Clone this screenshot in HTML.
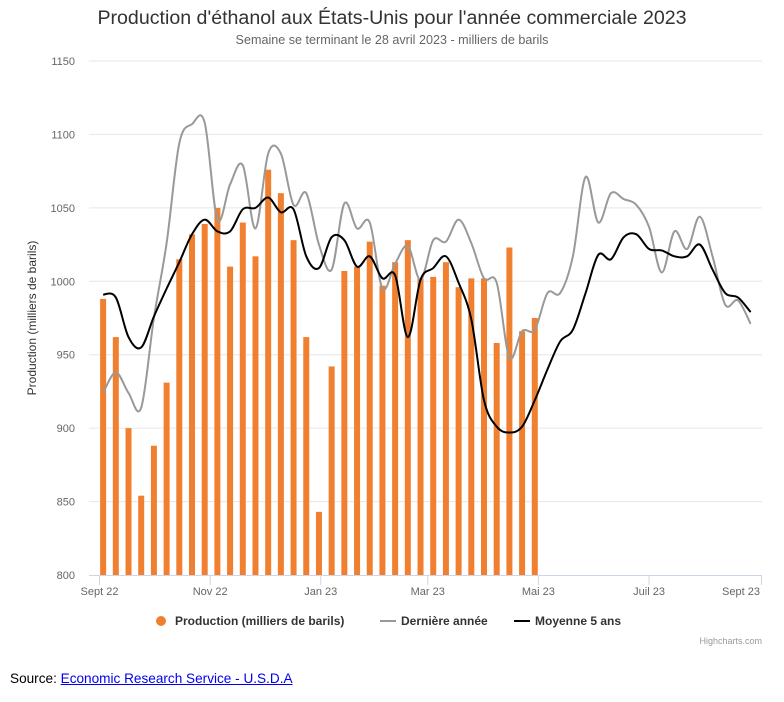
<!DOCTYPE html>
<html><head><meta charset="utf-8"><style>
body{margin:0;background:#fff;font-family:"Liberation Sans",sans-serif;}
#wrap{position:relative;width:784px;height:702px;}
.src{position:absolute;left:10px;top:671px;font-size:13.6px;color:#000;}
.src a{color:#00e;text-decoration:underline;}
</style></head><body>
<div id="wrap">
<svg id="chart" width="784" height="660" xmlns="http://www.w3.org/2000/svg"></svg>
<div class="src">Source: <a>Economic Research Service - U.S.D.A</a></div>
</div>
<script>
const xTickLabels=["Sept 22","Nov 22","Jan 23","Mar 23","Mai 23","Juil 23","Sept 23"];
const xTickDays=[0,61,122,181,242,303,365];
const yTicks=[800,850,900,950,1000,1050,1100,1150];
const production=[988,962,900,854,888,931,1015,1032,1039,1050,1010,1040,1017,1076,1060,1028,962,843,942,1007,1010,1027,997,1013,1028,1002,1003,1013,996,1002,1002,958,1023,966,975];
const lastYear=[924,938,924,914,975,1026,1094,1107,1108,1042,1066,1079,1036,1087,1087,1052,1060,1025,1008,1053,1036,1040,995,1012,1024,1001,1028,1027,1042,1026,1002,999,948,966,967,992,992,1017,1071,1040,1060,1056,1052,1037,1006,1034,1022,1044,1017,984,987,971];
const avg5=[991,989,962,955,976,995,1013,1032,1042,1034,1034,1049,1050,1057,1047,1049,1017,1009,1030,1028,1010,1017,1002,1004,962,1001,1009,1017,999,974,919,901,897,901,919,940,959,967,992,1018,1015,1030,1032,1022,1021,1017,1017,1025,1008,992,989,979];
const svg=document.getElementById('chart');const NS='http://www.w3.org/2000/svg';
const L=89,R=762,T=61,B=575;
const y=v=>B-(v-800)/350*(B-T);
const xd=d=>99.5+d*(761.5-99.5)/365;
const xw=i=>xd(2+i*7);
function el(tag,a,txt){const e=document.createElementNS(NS,tag);for(const k in a)e.setAttribute(k,a[k]);if(txt!==undefined)e.textContent=txt;svg.appendChild(e);return e;}
let e;
e=el('text',{x:392,y:24,'text-anchor':'middle','font-size':19.6,fill:'#333'},"Production d'éthanol aux États-Unis pour l'année commerciale 2023");


e=el('text',{x:392,y:44,'text-anchor':'middle','font-size':12.6,fill:'#666'},"Semaine se terminant le 28 avril 2023 - milliers de barils");


yTicks.forEach(v=>{
 if(v>800){e=el('line',{x1:L,x2:R,y1:y(v),y2:y(v),stroke:'#e6e6e6'});
 
 }
 e=el('text',{x:75,y:y(v)+4,'text-anchor':'end','font-size':11,fill:'#666'},v);
 
 
});
e=el('text',{x:36,y:318,'text-anchor':'middle','font-size':12,fill:'#333',transform:'rotate(-90 36 318)'},"Production (milliers de barils)");


production.forEach((v,i)=>{
 e=el('rect',{x:xw(i)-3,y:y(v),width:6,height:B-y(v),fill:'#f08030'});
 
 
});
function spline(arr){const p=arr.map((v,i)=>[xw(i),y(v)]);let d='M'+p[0][0]+','+p[0][1];
 for(let i=0;i<p.length-1;i++){const p0=p[i-1]||p[i],p1=p[i],p2=p[i+1],p3=p[i+2]||p2;const t=1/6;
  d+=` C${p1[0]+(p2[0]-p0[0])*t},${p1[1]+(p2[1]-p0[1])*t} ${p2[0]-(p3[0]-p1[0])*t},${p2[1]-(p3[1]-p1[1])*t} ${p2[0]},${p2[1]}`;}
 return d;}
e=el('path',{d:spline(lastYear),fill:'none',stroke:'#999',"stroke-width":2});


e=el('path',{d:spline(avg5),fill:'none',stroke:'#000',"stroke-width":2});


e=el('line',{x1:L,x2:R,y1:B+0.5,y2:B+0.5,stroke:'#ccd6eb'});


xTickLabels.forEach((t,i)=>{const x=xd(xTickDays[i]);
 e=el('line',{x1:x,x2:x,y1:B,y2:B+10,stroke:'#ccd6eb'});
 
 
 e=el('text',{x:i==6?Math.min(x,741):x,y:B+20,'text-anchor':'middle','font-size':11,fill:'#666'},t);
 
 
});
e=el('circle',{cx:161,cy:621,r:5,fill:'#f08030'});


e=el('text',{x:175,y:625,'font-size':12,'font-weight':'bold',fill:'#333'},"Production (milliers de barils)");


e=el('line',{x1:380,x2:396,y1:621,y2:621,stroke:'#999','stroke-width':2});


e=el('text',{x:401,y:625,'font-size':12,'font-weight':'bold',fill:'#333'},"Dernière année");


e=el('line',{x1:514,x2:530,y1:621,y2:621,stroke:'#000','stroke-width':2});


e=el('text',{x:535,y:625,'font-size':12,'font-weight':'bold',fill:'#333'},"Moyenne 5 ans");


e=el('text',{x:762,y:644,'text-anchor':'end','font-size':9,fill:'#999'},"Highcharts.com");


</script>
</body></html>
